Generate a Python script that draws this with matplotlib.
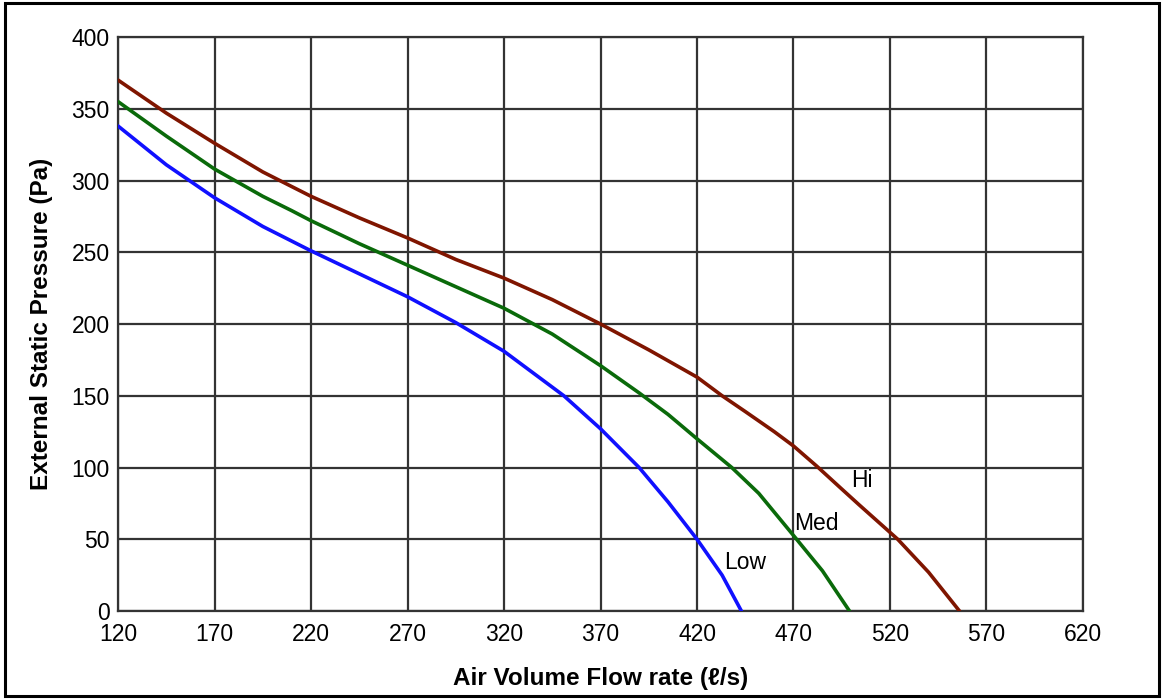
import matplotlib
matplotlib.use("Agg")
import matplotlib.pyplot as plt
from matplotlib.patches import Rectangle

plt.rcParams["font.family"] = ["Liberation Sans", "DejaVu Sans"]

# fan curves
hi_flow = [120, 145, 170, 195, 220, 245, 270, 295, 320, 345, 370, 395, 420, 433, 445, 460, 470,
           482, 495, 504, 514, 524, 540, 556]
hi_esp  = [370, 347, 326, 306, 289, 274, 260, 245, 232, 217, 200, 182, 163, 150, 139, 125, 115,
           101, 85, 74, 62, 50, 27, 0]

med_flow = [120, 145, 170, 195, 210, 220, 245, 270, 295, 320, 345, 370, 390, 405, 420, 438, 452,
            471, 485, 499]
med_esp  = [355, 331, 308, 289, 279, 272, 256, 241, 226, 211, 193, 171, 152, 137, 120, 100, 82,
            51, 28, 0]

low_flow = [120, 145, 170, 195, 220, 245, 270, 295, 320, 335, 351, 370, 390, 405, 420, 433, 443]
low_esp  = [338, 311, 288, 268, 251, 235, 219, 201, 181, 166, 150, 127, 100, 76, 50, 25, 0]

x_ticks = list(range(120, 621, 50))
y_ticks = list(range(0, 401, 50))

GRID = "#333333"

fig = plt.figure(figsize=(11.64, 6.99), dpi=100)
ax = fig.add_axes([0.1014, 0.1259, 0.829, 0.8211])

ax.plot(hi_flow, hi_esp, color="#7f1500", lw=2.6, solid_capstyle="round",
        solid_joinstyle="round", zorder=3)
ax.plot(med_flow, med_esp, color="#0a6a0a", lw=2.6, solid_capstyle="round",
        solid_joinstyle="round", zorder=3)
ax.plot(low_flow, low_esp, color="#1010ff", lw=2.6, solid_capstyle="round",
        solid_joinstyle="round", zorder=3)

ax.text(500, 91, "Hi", fontsize=16.5, ha="left", va="center")
ax.text(470.5, 61, "Med", fontsize=16.5, ha="left", va="center")
ax.text(434, 33.5, "Low", fontsize=16.5, ha="left", va="center")

ax.set_xlim(120, 620)
ax.set_ylim(0, 400)
ax.set_xticks(x_ticks)
ax.set_yticks(y_ticks)
ax.tick_params(axis="both", length=0, labelsize=16.5)
ax.tick_params(axis="x", pad=9)
ax.tick_params(axis="y", pad=6)
ax.grid(True, color=GRID, lw=1.6)
for s in ax.spines.values():
    s.set_color(GRID)
    s.set_linewidth(1.6)

ax.set_xlabel("Air Volume Flow rate (ℓ/s)", fontsize=17.5, fontweight="bold", labelpad=15)
ax.set_ylabel("External Static Pressure (Pa)", fontsize=17.5, fontweight="bold", labelpad=13)

# outer frame
fig.patches.append(Rectangle((0.004, 0.004), 0.992, 0.992, transform=fig.transFigure,
                             fill=False, edgecolor="black", lw=2.2))

plt.savefig("out.png", dpi=100)
